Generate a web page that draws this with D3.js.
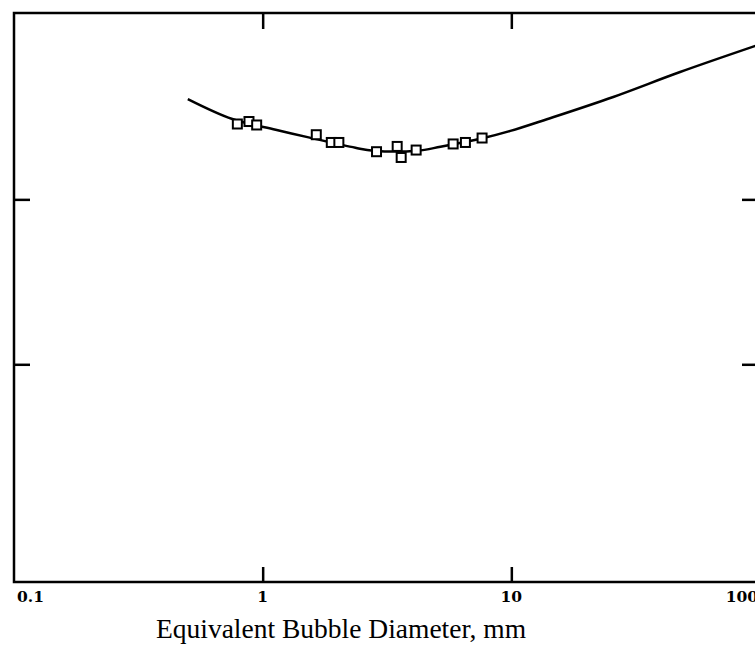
<!DOCTYPE html>
<html>
<head>
<meta charset="utf-8">
<script src="https://cdn.jsdelivr.net/npm/d3@7"></script>
<style>
  body { margin: 0; background: #fff; }
  svg { display: block; }
</style>
</head>
<body>
<svg id="chart"></svg>
<script>
// measured points (diameter in mm, value on the unlabeled y axis)
const pointDiameters = [0.791, 0.881, 0.946, 1.643, 1.888, 2.025, 2.870, 3.475, 3.606, 4.142, 5.834, 6.536, 7.627];
const pointValues    = [3.457, 3.472, 3.451, 3.392, 3.345, 3.345, 3.289, 3.321, 3.254, 3.299, 3.336, 3.345, 3.372];

// fitted curve
const curveDiameters = [0.50, 0.755, 1.128, 1.53, 2.36, 2.79, 4.18, 5.19, 7.72, 9.91, 13.9, 25.7, 47.7, 100];
const curveValues    = [3.608, 3.487, 3.422, 3.376, 3.313, 3.295, 3.295, 3.319, 3.372, 3.415, 3.486, 3.621, 3.772, 3.94];

const xTickLabels = [0.1, 1, 10, 100];
const xInnerTicks = [1, 10];
const yTicks = [2, 3];

const width = 755, height = 648;
const plotLeft = 14, plotRight = 760, plotTop = 13, plotBottom = 582;

const svg = d3.select("#chart")
    .attr("width", width)
    .attr("height", height);

const x = d3.scaleLog().domain([0.1, 100]).range([plotLeft, plotRight]);
const y = d3.scaleLinear().domain([0.68, 4.13]).range([plotBottom, plotTop]);

// ticks (pointing inward on all four sides)
svg.append("g")
    .attr("transform", `translate(0,${plotBottom})`)
    .call(d3.axisBottom(x).tickValues(xInnerTicks).tickSize(-15).tickFormat(""));
svg.append("g")
    .attr("transform", `translate(0,${plotTop})`)
    .call(d3.axisTop(x).tickValues(xInnerTicks).tickSize(-16).tickFormat(""));
svg.append("g")
    .attr("transform", `translate(${plotLeft},0)`)
    .call(d3.axisLeft(y).tickValues(yTicks).tickSize(-16).tickFormat(""));
svg.append("g")
    .attr("transform", `translate(${plotRight},0)`)
    .call(d3.axisRight(y).tickValues(yTicks).tickSize(-18).tickFormat(""));

svg.selectAll(".domain").remove();
svg.selectAll(".tick line").attr("stroke", "#000").attr("stroke-width", 2.5);

// frame
svg.append("rect")
    .attr("x", plotLeft).attr("y", plotTop)
    .attr("width", plotRight - plotLeft).attr("height", plotBottom - plotTop)
    .attr("fill", "none")
    .attr("stroke", "#000")
    .attr("stroke-width", 2.5);

// x tick labels
svg.selectAll(".xlab")
    .data(xTickLabels)
    .enter().append("text")
    .attr("class", "xlab")
    .attr("x", d => d === 0.1 ? x(d) + 3 : d === 100 ? x(d) - 2 : x(d))
    .attr("y", 602)
    .attr("text-anchor", d => d === 0.1 ? "start" : d === 100 ? "end" : "middle")
    .attr("font-family", "DejaVu Serif")
    .attr("font-weight", "bold")
    .attr("font-size", 15.5)
    .text(d => d);

// axis title
svg.append("text")
    .attr("x", 341)
    .attr("y", 638)
    .attr("text-anchor", "middle")
    .attr("font-family", "Liberation Serif")
    .attr("font-size", 27.5)
    .text("Equivalent Bubble Diameter, mm");

// curve
const line = d3.line()
    .x(d => x(d[0]))
    .y(d => y(d[1]))
    .curve(d3.curveCatmullRom.alpha(0.5));

svg.append("path")
    .datum(d3.zip(curveDiameters, curveValues))
    .attr("d", line)
    .attr("fill", "none")
    .attr("stroke", "#000")
    .attr("stroke-width", 2.5);

// square markers
svg.selectAll(".pt")
    .data(d3.zip(pointDiameters, pointValues))
    .enter().append("rect")
    .attr("class", "pt")
    .attr("x", d => x(d[0]) - 4.5)
    .attr("y", d => y(d[1]) - 4.5)
    .attr("width", 9)
    .attr("height", 9)
    .attr("fill", "#fff")
    .attr("stroke", "#000")
    .attr("stroke-width", 2);
</script>
</body>
</html>
